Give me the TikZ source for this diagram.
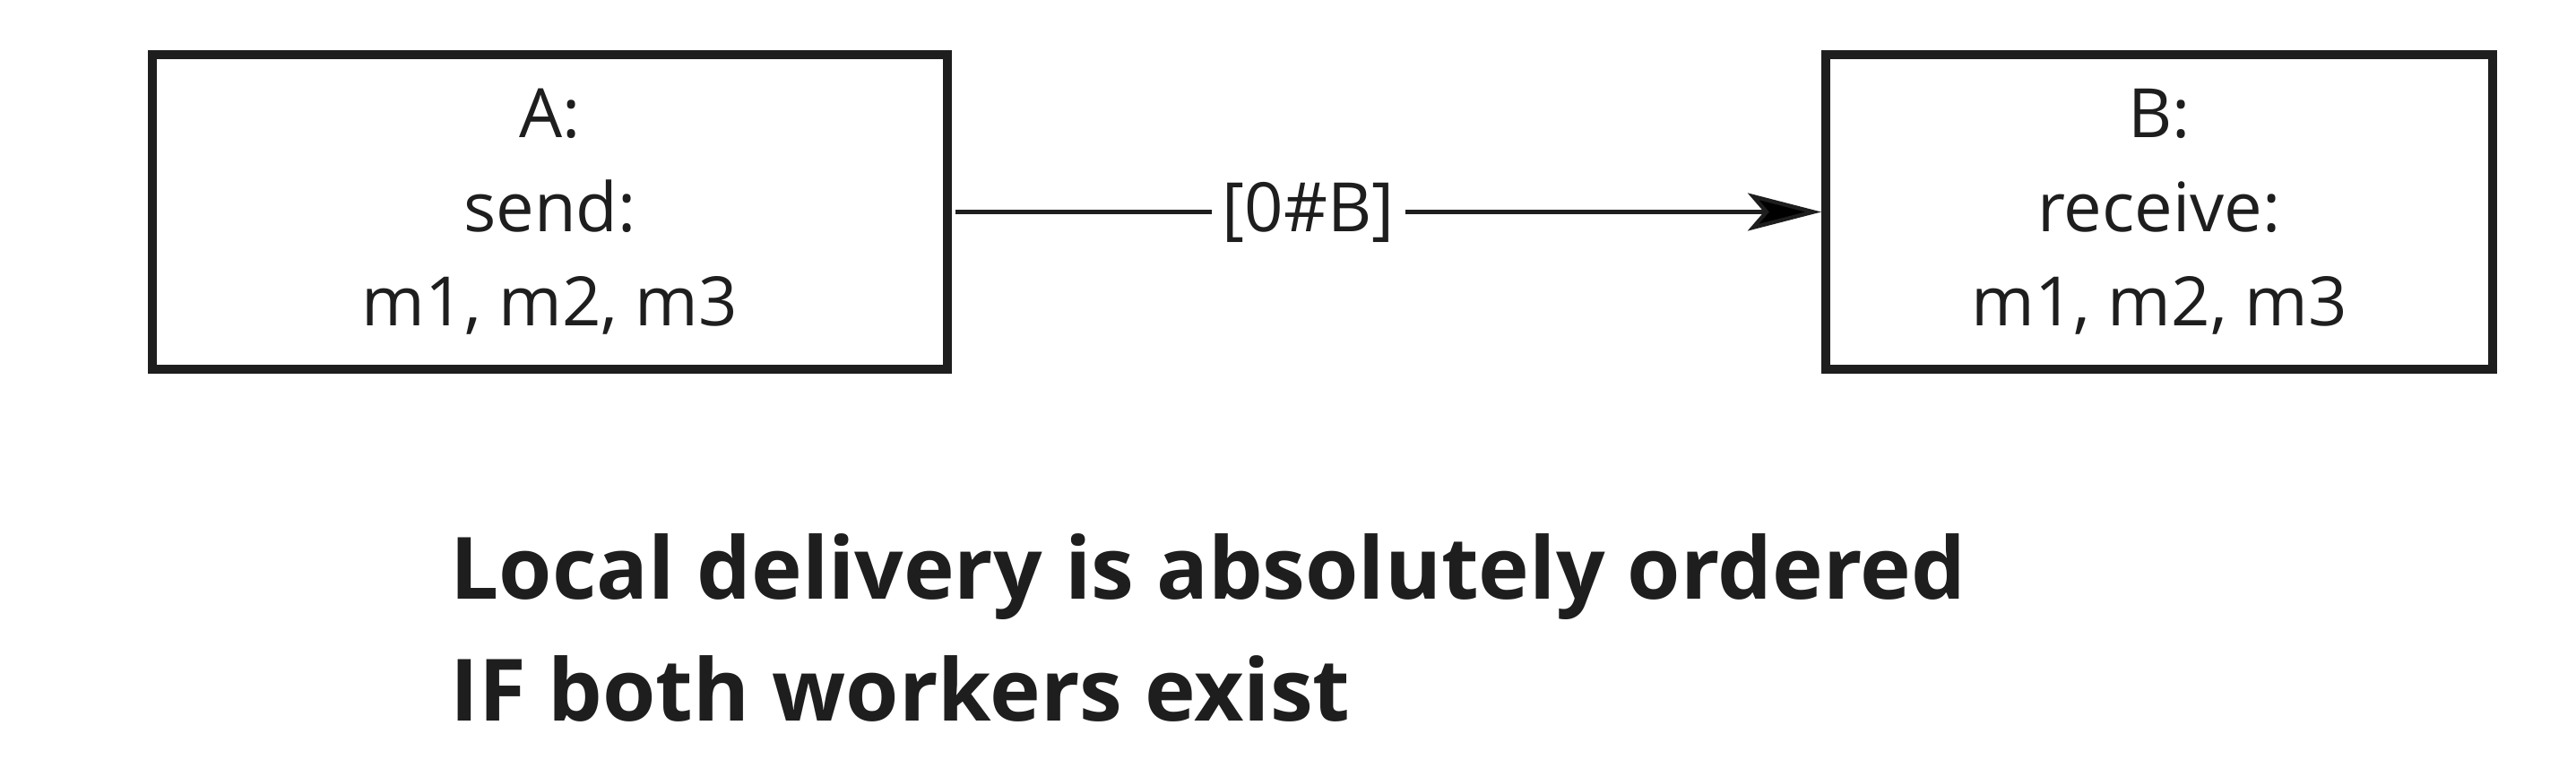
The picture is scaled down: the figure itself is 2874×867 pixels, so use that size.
\documentclass[tikz,border=0pt]{standalone}
\usepackage{fontspec}
\setmainfont{Open Sans}
\usetikzlibrary{positioning,arrows.meta}
\definecolor{ink}{HTML}{1E1E1E}

\begin{document}
\begin{tikzpicture}[x=0.5pt, y=0.5pt,
    worker/.style = {rectangle, draw=ink, line width=5pt, minimum width=443.5pt, minimum height=175.5pt, align=center, text=ink, font=\fontsize{38}{52.5}\selectfont},
    msg/.style = {draw=ink, line width=2.2pt, -{Stealth[length=41pt, width=21pt, inset=9pt]}}]
    \useasboundingbox (0,0) rectangle (2874,867);
    \node[worker] (A) at (613.5,630.5) {A:\\send:\\m1, m2, m3};
    \node[worker, minimum width=372pt] (B) [right=485pt of A] {B:\\receive:\\m1, m2, m3};
    \path[msg] (A) edge[shorten <=2pt, shorten >=0pt] node[pos=0.41, fill=white, text=ink, inner xsep=6pt, font=\fontsize{38}{52.5}\selectfont] {[0\#B]} (B);
    \node[anchor=base west, align=left, text=ink, inner sep=0pt, font=\bfseries\fontsize{48}{68}\selectfont] (note) at (502,62) {Local delivery is absolutely ordered\\IF both workers exist};
\end{tikzpicture}
\end{document}
